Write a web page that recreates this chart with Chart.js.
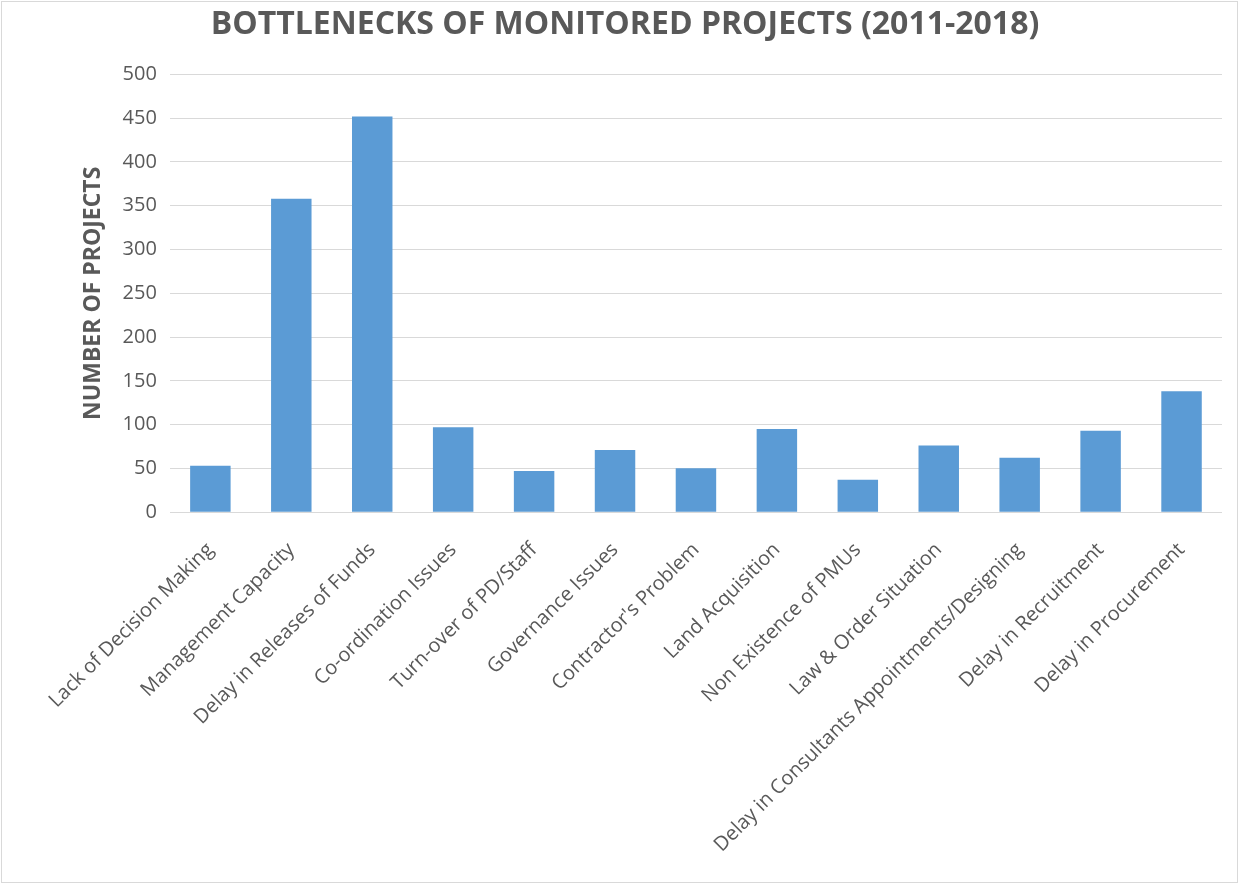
<!DOCTYPE html>
<html>
<head>
<meta charset="utf-8">
<script src="https://cdn.jsdelivr.net/npm/chart.js@4"></script>
<style>
  html, body { margin: 0; padding: 0; background: #fff; }
  .frame {
    position: absolute; left: 1px; top: 1px;
    width: 1237px; height: 882px;
    border: 1px solid #d9d9d9;
    box-sizing: border-box;
  }
  .wrap { position: absolute; left: 0; top: 0; width: 1247px; height: 886px; }
</style>
</head>
<body>
<div class="frame"></div>
<div class="wrap"><canvas id="chart"></canvas></div>
<script>
// Bottlenecks data
const categories = [
    'Lack of Decision Making',
    'Management Capacity',
    'Delay in Releases of Funds',
    'Co-ordination Issues',
    'Turn-over of PD/Staff',
    'Governance Issues',
    "Contractor's Problem",
    'Land Acquisition',
    'Non Existence of PMUs',
    'Law & Order Situation',
    'Delay in Consultants Appointments/Designing',
    'Delay in Recruitment',
    'Delay in Procurement'
];
const projectCounts = [53, 358, 452, 97, 47, 71, 50, 95, 37, 76, 62, 93, 138];
const yTicks = [0, 50, 100, 150, 200, 250, 300, 350, 400, 450, 500];

const textGrey = '#595959';
const gridGrey = '#d9d9d9';

document.addEventListener('DOMContentLoaded', function () {
    const ctx = document.getElementById('chart');

    new Chart(ctx.getContext('2d'), {
        type: 'bar',
        data: {
            labels: categories,
            datasets: [{
                label: 'Number of Projects',
                data: projectCounts,
                backgroundColor: '#5b9bd5',
                borderWidth: 0,
                categoryPercentage: 1.0,
                barPercentage: 0.5
            }]
        },
        options: {
            responsive: true,
            maintainAspectRatio: false,
            animation: false,
            layout: {
                // left/right balanced so the title centres at x ~ 625
                padding: { left: 28, right: 25, top: 0, bottom: 3 }
            },
            plugins: {
                legend: { display: false },
                tooltip: { enabled: false },
                title: {
                    display: true,
                    text: 'BOTTLENECKS OF MONITORED PROJECTS (2011-2018)',
                    color: textGrey,
                    font: { family: 'Open Sans', size: 32, weight: 'bold' },
                    padding: { top: 6, bottom: 30 }
                }
            },
            scales: {
                x: {
                    grid: { display: false, drawTicks: false },
                    border: { display: false },
                    ticks: {
                        color: textGrey,
                        font: { family: 'Open Sans', size: 20 },
                        minRotation: 45,
                        maxRotation: 45,
                        autoSkip: false,
                        padding: 26
                    }
                },
                y: {
                    min: 0,
                    max: 500,
                    afterBuildTicks: function (axis) {
                        axis.ticks = yTicks.map(v => ({ value: v }));
                    },
                    grid: { color: gridGrey, lineWidth: 1, drawTicks: false },
                    border: { display: false },
                    ticks: {
                        color: textGrey,
                        font: { family: 'Open Sans', size: 20 },
                        padding: 13
                    },
                    title: {
                        display: true,
                        text: 'NUMBER OF PROJECTS',
                        color: textGrey,
                        font: { family: 'Open Sans', size: 23, weight: 'bold' },
                        padding: { top: 52, bottom: 2 }
                    }
                }
            }
        }
    });
});
</script>
</body>
</html>
